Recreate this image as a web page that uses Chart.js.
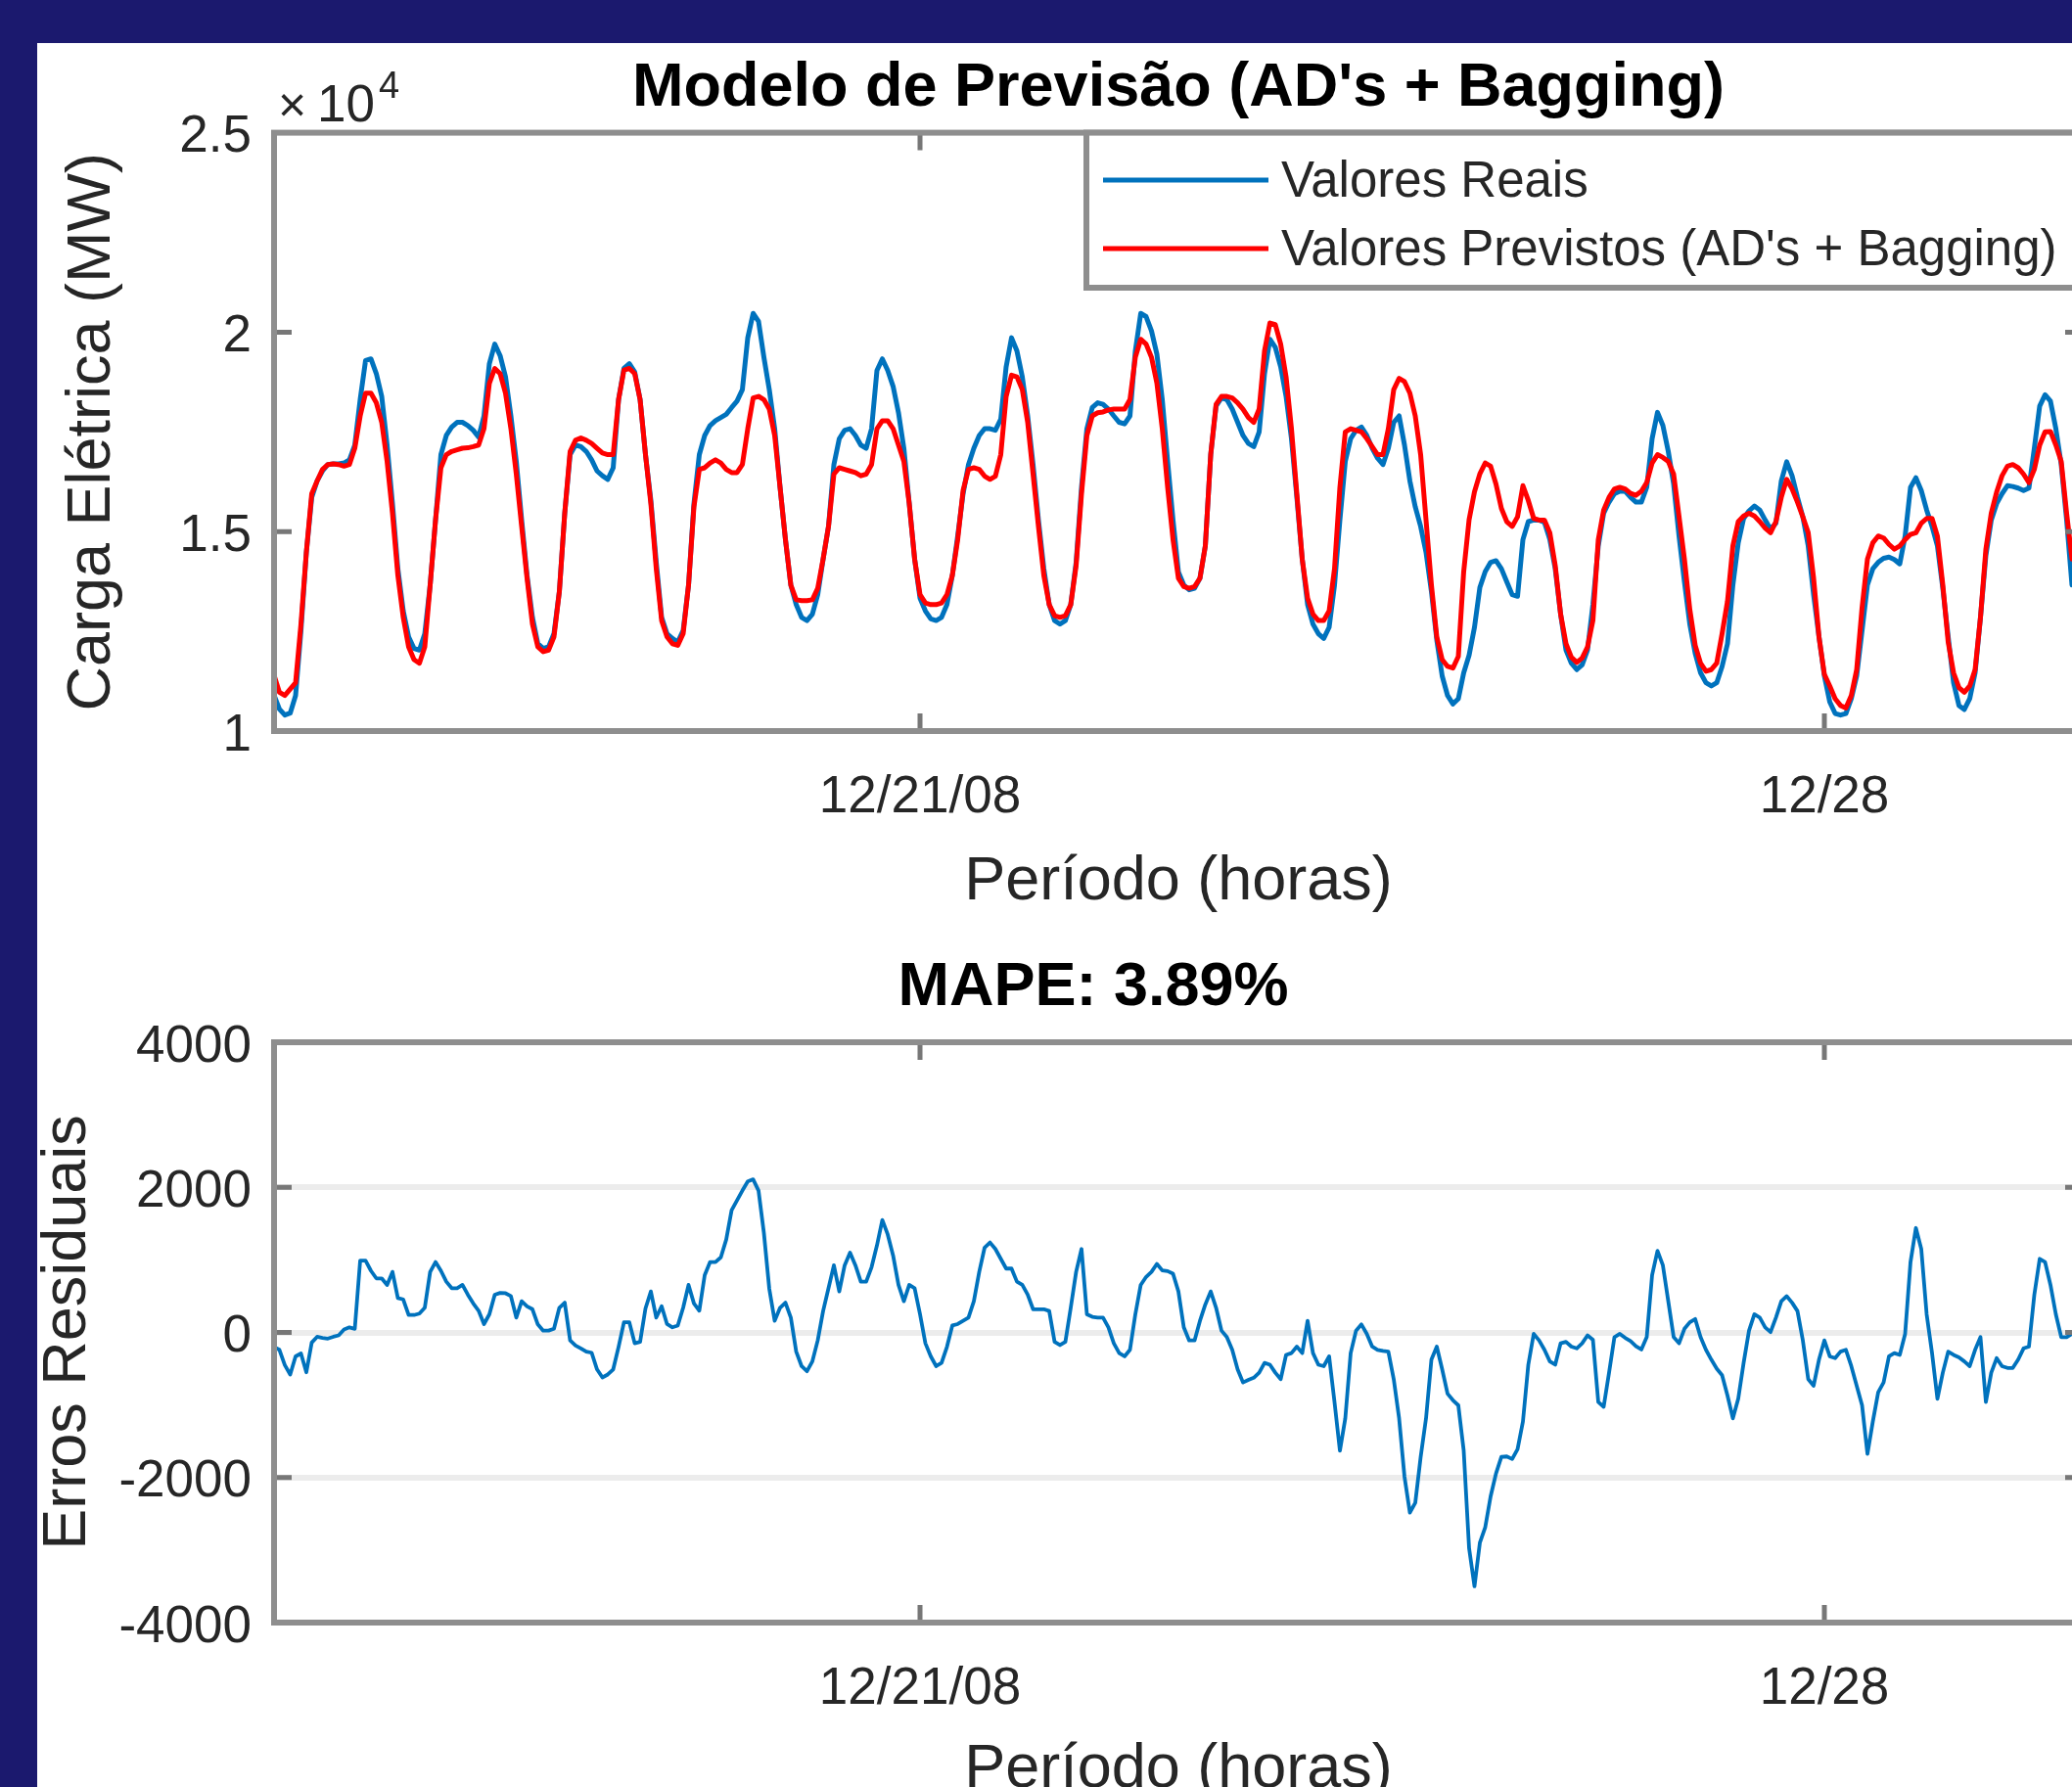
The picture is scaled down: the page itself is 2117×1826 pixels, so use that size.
<!DOCTYPE html>
<html>
<head>
<meta charset="utf-8">
<script src="https://cdn.jsdelivr.net/npm/chart.js@4"></script>
<style>
html,body{margin:0;padding:0;width:2117px;height:1826px;overflow:hidden;background:#1b196e;}
#panel{position:absolute;left:38px;top:44px;width:2200px;height:1900px;background:#ffffff;}
#c1{position:absolute;left:0;top:0;width:2300px;height:947px;}
#c2{position:absolute;left:0;top:950px;width:2300px;height:950px;}
</style>
</head>
<body>
<div id="panel"></div>
<canvas id="c1" width="2300" height="947"></canvas>
<canvas id="c2" width="2300" height="950"></canvas>
<script>
// ---------------- DATA (hourly, hour 0 = 12/16/08 00:00) ----------------
const realLoad = [
10900,10550,10400,10450,10890,12520,14480,15860,16270,16520,16680,16700,
16700,16720,16800,17170,18310,19290,19330,18960,18390,17170,15700,14070,
13010,12360,12070,12030,12440,13660,15290,16930,17410,17620,17740,17740,
17660,17540,17370,17900,19210,19700,19410,18880,17900,16760,15290,13900,
12850,12190,12070,12110,12440,13500,15460,16930,17170,17130,17010,16800,
16520,16400,16310,16600,18310,19090,19210,19000,18310,16930,15780,14230,
12850,12440,12320,12230,12520,13660,15700,16930,17410,17660,17780,17860,
17940,18110,18270,18560,19860,20470,20270,19370,18560,17580,16110,14800,
13660,13170,12850,12770,12930,13420,14310,15130,16680,17330,17540,17580,
17410,17170,17090,17580,19040,19330,19040,18640,17980,17090,15700,14310,
13330,13010,12810,12770,12850,13170,13900,14890,15950,16680,17090,17410,
17580,17580,17540,17820,19130,19860,19530,18880,17900,16680,15290,14070,
13170,12770,12680,12770,13170,14230,16110,17580,18110,18230,18190,18070,
17900,17740,17700,17900,19530,20470,20390,20030,19450,18310,16760,15290,
13990,13660,13540,13580,13830,14640,16930,18150,18350,18310,18070,17740,
17410,17210,17130,17500,18960,19820,19620,19130,18390,17330,15860,14310,
13170,12680,12440,12320,12600,13660,15290,16760,17330,17540,17620,17410,
17090,16840,16680,17090,17740,17900,17170,16270,15620,15130,14480,13500,
12280,11380,10890,10680,10810,11460,11900,12600,13600,14000,14230,14270,
14070,13740,13420,13380,14800,15250,15290,15290,15230,14800,14070,12930,
12030,11700,11540,11660,12030,13170,14640,15460,15740,15950,16010,16010,
15860,15740,15740,16110,17330,17990,17660,17010,16190,14890,13740,12680,
11950,11460,11210,11130,11210,11620,12190,13660,14720,15330,15520,15640,
15540,15290,15060,15210,16270,16750,16400,15860,15370,14640,13420,12360,
11380,10730,10440,10400,10440,10810,11380,12520,13660,14070,14230,14330,
14360,14300,14190,14890,16110,16350,16030,15540,15130,14640,13580,12360,
11210,10640,10540,10810,11460,12850,14400,15290,15700,15950,16150,16130,
16090,16030,16090,17090,18150,18430,18270,17580,16680,15290,13660
];
const predictedLoad = [
11400,10970,10890,11050,11210,12680,14480,15950,16270,16560,16680,16700,
16680,16640,16680,17090,17900,18470,18470,18230,17740,16760,15460,13900,
12850,12110,11790,11700,12110,13660,15290,16600,16930,17010,17050,17090,
17100,17130,17170,17580,18720,19090,18960,18470,17580,16440,15130,13830,
12680,12110,11990,12030,12360,13500,15460,17010,17290,17350,17290,17210,
17090,16970,16930,16930,18310,19050,19090,18960,18310,16930,15700,14070,
12770,12360,12190,12150,12440,13660,15620,16560,16600,16720,16800,16720,
16560,16480,16480,16680,17580,18350,18390,18310,18070,17410,16110,14800,
13660,13290,13270,13270,13290,13580,14310,15130,16440,16600,16560,16520,
16480,16400,16440,16680,17580,17780,17780,17580,17170,16760,15700,14310,
13420,13210,13170,13170,13210,13420,13900,14800,16030,16560,16600,16560,
16390,16310,16390,16930,18390,18920,18880,18560,17740,16440,15130,13900,
13170,12890,12850,12890,13170,14150,15950,17410,17900,17980,18000,18050,
18070,18070,18070,18310,19370,19820,19700,19370,18720,17580,16110,14800,
13830,13620,13580,13620,13830,14640,16930,18190,18390,18390,18350,18230,
18070,17860,17740,18070,19530,20230,20190,19700,18880,17580,15950,14310,
13330,12930,12770,12770,13010,14070,16110,17500,17580,17540,17500,17330,
17130,16930,16930,17580,18560,18840,18760,18470,17900,16930,15290,13660,
12360,11790,11620,11580,11870,14000,15300,16000,16450,16720,16640,16190,
15580,15250,15130,15370,16150,15780,15330,15290,15290,14970,14150,12930,
12190,11850,11720,11830,12110,12770,14800,15540,15860,16070,16110,16070,
15960,15910,16010,16230,16720,16930,16860,16760,16440,15380,14310,13050,
12150,11700,11500,11540,11700,12440,13250,14640,15250,15390,15460,15390,
15250,15090,14970,15250,15860,16310,16070,15740,15370,14970,13830,12360,
11420,11130,10810,10640,10580,10890,11540,13090,14310,14720,14890,14840,
14680,14560,14640,14800,14930,14970,15210,15330,15330,14880,13660,12230,
11460,11090,10970,11130,11540,12850,14560,15460,15990,16400,16640,16680,
16600,16440,16230,16560,17170,17500,17510,17170,16760,15460,14310
];
const residuals = [
-200,-240,-450,-580,-330,-290,-550,-140,-60,-75,-85,-60,
-40,40,70,50,990,990,850,745,745,655,835,475,
455,240,240,260,340,835,970,850,700,610,610,655,
520,400,300,115,250,520,545,540,500,205,430,360,
320,110,25,25,50,340,410,-110,-180,-220,-265,-280,
-510,-620,-580,-510,-200,140,140,-150,-130,330,565,205,
360,115,70,95,340,655,400,300,790,970,970,1035,
1280,1685,1820,1955,2080,2110,1955,1370,600,160,340,410,
205,-265,-465,-535,-400,-110,295,610,925,565,925,1100,
925,700,700,900,1200,1550,1350,1060,655,430,655,610,
250,-150,-330,-465,-420,-200,95,115,160,205,430,835,
1170,1240,1150,1015,880,880,700,655,520,320,320,320,
295,-130,-175,-130,340,835,1150,250,215,205,205,70,
-150,-285,-330,-240,250,655,765,835,945,855,845,810,
565,70,-110,-110,160,385,565,340,25,-65,-240,-510,
-690,-655,-625,-555,-420,-445,-555,-645,-310,-285,-195,-285,
160,-285,-445,-465,-330,-960,-1630,-1185,-285,25,110,-20,
-195,-240,-255,-265,-645,-1185,-1990,-2485,-2350,-1720,-1185,-375,
-195,-510,-845,-935,-1005,-1630,-2975,-3500,-2900,-2685,-2260,-1945,
-1715,-1710,-1745,-1610,-1230,-445,-20,-110,-240,-400,-445,-150,
-130,-195,-220,-150,-40,-100,-960,-1025,-555,-65,-20,-75,
-120,-190,-235,-65,790,1125,925,430,-65,-150,50,140,
185,-65,-240,-375,-500,-590,-870,-1185,-915,-420,25,250,
205,70,5,205,430,500,410,295,-110,-645,-735,-375,
-110,-330,-355,-265,-240,-465,-735,-1005,-1675,-1230,-825,-690,
-330,-285,-310,-20,970,1440,1150,250,-285,-915,-555,-265,
-310,-345,-400,-465,-240,-65,-960,-555,-355,-465,-490,-490,
-375,-220,-195,520,1015,970,655,250,-65,-65,-20
];
const xMinHour = 0, xMaxHour = 336;
const xTickHours  = [120, 288];
const xTickLabels = ['12/21/08', '12/28'];
const yTicksTop       = [10000, 15000, 20000, 25000];
const yTickLabelsTop  = ['1', '1.5', '2', '2.5'];
const yTicksBottom      = [-4000, -2000, 0, 2000, 4000];
const yTickLabelsBottom = ['-4000', '-2000', '0', '2000', '4000'];
const seriesNames = ['Valores Reais', 'Valores Previstos (AD\'s + Bagging)'];
const residualName = 'Erros Residuais';

// ---------------- STYLE ----------------
const FONT = "'Liberation Sans', Arial, Helvetica, sans-serif";
const TXT = '#262626';
const AXIS = '#8e8e8e';
const TICKC = '#777777';
const BLUE = '#0072BD';
const RED = '#FF0000';
Chart.defaults.font.family = FONT;
Chart.defaults.color = TXT;

const hours = realLoad.map((_, i) => i);
const pts = arr => arr.map((v, i) => ({x: hours[i], y: v}));

const framePlugin = {
  id: 'frame',
  afterDatasetsDraw(chart) {
    const {ctx, chartArea: a, scales: {x, y}} = chart;
    ctx.save();
    ctx.strokeStyle = TICKC;
    ctx.lineWidth = 5;
    const L = 18;
    ctx.beginPath();
    x.ticks.forEach(t => {
      const px = x.getPixelForValue(t.value);
      ctx.moveTo(px, a.bottom); ctx.lineTo(px, a.bottom - L);
      ctx.moveTo(px, a.top); ctx.lineTo(px, a.top + L);
    });
    y.ticks.forEach(t => {
      const py = y.getPixelForValue(t.value);
      ctx.moveTo(a.left, py); ctx.lineTo(a.left + L, py);
      ctx.moveTo(a.right, py); ctx.lineTo(a.right - L, py);
    });
    ctx.stroke();
    ctx.strokeStyle = AXIS;
    ctx.lineWidth = 6;
    ctx.strokeRect(a.left, a.top, a.right - a.left, a.bottom - a.top);
    ctx.restore();
  }
};

const legendPlugin = {
  id: 'boxLegend',
  afterDraw(chart, args, o) {
    if (!o || !o.show) return;
    const {ctx, chartArea: a} = chart;
    ctx.save();
    ctx.fillStyle = '#ffffff';
    ctx.fillRect(o.left, a.top, a.right - o.left, o.bottom - a.top);
    ctx.strokeStyle = AXIS; ctx.lineWidth = 6;
    ctx.strokeRect(o.left, a.top, a.right - o.left, o.bottom - a.top);
    chart.data.datasets.forEach((ds, i) => {
      const yy = o.rows[i];
      ctx.strokeStyle = ds.borderColor; ctx.lineWidth = ds.borderWidth;
      ctx.beginPath(); ctx.moveTo(o.lineStart, yy); ctx.lineTo(o.lineEnd, yy); ctx.stroke();
      ctx.fillStyle = TXT; ctx.font = '51px ' + FONT;
      ctx.textAlign = 'left'; ctx.textBaseline = 'middle';
      ctx.fillText(ds.label, o.textX, yy + 3);
    });
    ctx.restore();
  }
};

const exponentPlugin = {
  id: 'exponent',
  afterDraw(chart, args, o) {
    if (!o || !o.show) return;
    const {ctx, chartArea: a} = chart;
    ctx.save();
    ctx.fillStyle = TXT; ctx.textBaseline = 'alphabetic'; ctx.textAlign = 'left';
    ctx.font = '50px ' + FONT;
    ctx.fillText('\u00D7', a.left + 4, a.top - 12);
    ctx.font = '53px ' + FONT;
    ctx.fillText('10', a.left + 44, a.top - 12);
    ctx.font = '38px ' + FONT;
    ctx.fillText('4', a.left + 107, a.top - 36);
    ctx.restore();
  }
};

function xScale(height, titlePadBottom) {
  return {
    type: 'linear', min: xMinHour, max: xMaxHour,
    afterBuildTicks: s => { s.ticks = xTickHours.map(v => ({value: v})); },
    afterFit: s => { s.height = height; },
    grid: {display: false, drawTicks: false},
    border: {display: false},
    ticks: {padding: 37, font: {size: 53}, color: TXT, maxRotation: 0, autoSkip: false,
            callback: v => { const k = xTickHours.indexOf(v); return k >= 0 ? xTickLabels[k] : ''; }},
    title: {display: true, text: 'Período (horas)', font: {size: 63}, color: TXT,
            padding: {top: 0, bottom: titlePadBottom}}
  };
}

// ---------------- TOP CHART ----------------
new Chart(document.getElementById('c1'), {
  type: 'line',
  data: {
    datasets: [
      {label: seriesNames[0], data: pts(realLoad), borderColor: BLUE, borderWidth: 5, order: 1},
      {label: seriesNames[1], data: pts(predictedLoad), borderColor: RED, borderWidth: 5, order: 0}
    ]
  },
  options: {
    responsive: false, animation: false, devicePixelRatio: 1, events: [],
    elements: {point: {radius: 0}, line: {tension: 0, borderCapStyle: 'round', borderJoinStyle: 'round'}},
    layout: {padding: {left: 0, right: 172, top: 0, bottom: 0}},
    scales: {
      x: xScale(200, 8),
      y: {
        type: 'linear', min: 10000, max: 25000,
        afterBuildTicks: s => { s.ticks = yTicksTop.map(v => ({value: v})); },
        afterFit: s => { s.width = 280; },
        grid: {display: false, drawTicks: false},
        border: {display: false},
        ticks: {padding: 23, labelOffset: 5, font: {size: 53}, color: TXT,
                callback: v => { const k = yTicksTop.indexOf(v); return k >= 0 ? yTickLabelsTop[k] : ''; }},
        title: {display: true, text: 'Carga Elétrica (MW)', font: {size: 63}, color: TXT,
                padding: {top: 57, bottom: 0}}
      }
    },
    plugins: {
      legend: {display: false},
      tooltip: {enabled: false},
      title: {display: true, text: 'Modelo de Previsão (AD\'s + Bagging)', fullSize: false,
              font: {size: 63, weight: 'bold'}, color: '#000000', padding: {top: 53, bottom: 7}},
      boxLegend: {show: true, left: 1110, bottom: 294, rows: [184, 254], lineStart: 1127, lineEnd: 1296, textX: 1309},
      exponent: {show: true}
    }
  },
  plugins: [framePlugin, legendPlugin, exponentPlugin]
});

// ---------------- BOTTOM CHART ----------------
new Chart(document.getElementById('c2'), {
  type: 'line',
  data: {
    datasets: [
      {label: residualName, data: pts(residuals), borderColor: BLUE, borderWidth: 3.8}
    ]
  },
  options: {
    responsive: false, animation: false, devicePixelRatio: 1, events: [],
    elements: {point: {radius: 0}, line: {tension: 0, borderJoinStyle: 'round'}},
    layout: {padding: {left: 106, right: 172, top: 0, bottom: 0}},
    scales: {
      x: xScale(242, 54),
      y: {
        type: 'linear', min: -4000, max: 4000,
        afterBuildTicks: s => { s.ticks = yTicksBottom.map(v => ({value: v})); },
        afterFit: s => { s.width = 174; },
        grid: {display: true, drawTicks: false, color: '#ececec', lineWidth: 6},
        border: {display: false},
        ticks: {padding: 23, labelOffset: 5, font: {size: 53}, color: TXT,
                callback: v => { const k = yTicksBottom.indexOf(v); return k >= 0 ? yTickLabelsBottom[k] : ''; }},
        title: {display: true, text: 'Erros Residuais', font: {size: 63}, color: TXT,
                padding: {top: -73.8, bottom: 0}}
      }
    },
    plugins: {
      legend: {display: false},
      tooltip: {enabled: false},
      title: {display: true, text: 'MAPE: 3.89%', fullSize: true,
              font: {size: 63, weight: 'bold'}, color: '#000000', padding: {top: 22.2, bottom: 17.2}}
    }
  },
  plugins: [framePlugin]
});
</script>
</body>
</html>
